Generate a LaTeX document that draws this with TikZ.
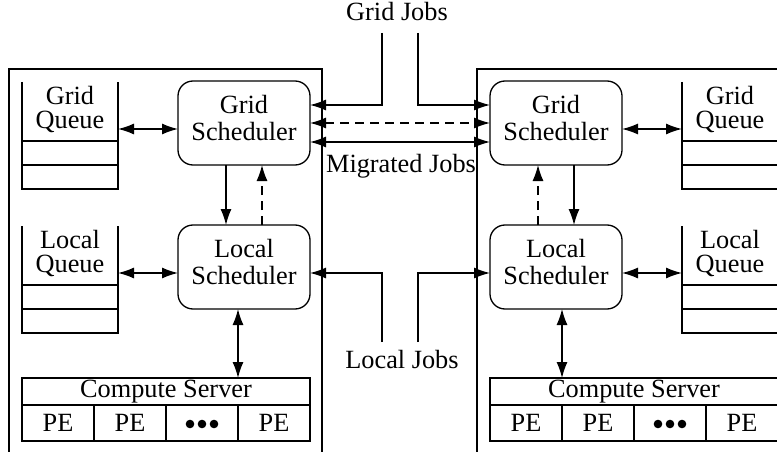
\documentclass[tikz,border=0pt]{standalone}
\usepackage{fontspec}
\setmainfont{Liberation Serif}
\usetikzlibrary{arrows.meta}
\begin{document}
\begin{tikzpicture}[x=1pt,y=-1pt, line width=1.3pt,
  every node/.style={font=\fontsize{26.3}{27}\selectfont, inner sep=0pt, outer sep=0pt},
  schedbox/.style={draw, rounded corners=15pt, minimum width=132pt, minimum height=84pt},
  qbox/.style={minimum width=96pt, minimum height=107pt},
  qtext/.style={align=center, font=\fontsize{26.3}{24}\selectfont},
  stext/.style={align=center},
  cbox/.style={draw, minimum width=288pt, minimum height=27pt},
  pebox/.style={draw, minimum width=72pt, minimum height=36pt},
  domainbox/.style={draw, minimum width=313pt, minimum height=400pt, anchor=north west},
  arr/.style={-{Latex[length=16pt,width=11pt]}},
  darr/.style={{Latex[length=16pt,width=11pt]}-{Latex[length=16pt,width=11pt]}},
  dsh/.style={dash pattern=on 9pt off 6pt},
  lbl/.style={anchor=base}
]
\useasboundingbox (0,0) rectangle (777,452);
\clip (0,0) rectangle (777,452);

% domains
\node (dl) [domainbox] at (9,69) {};
\node (dr) [domainbox] at (477,69) {};

% schedulers
\node (gsl) [schedbox] at (244,123) {};
\node (gsr) [schedbox] at (556,123) {};
\node (lsl) [schedbox] at (244,267) {};
\node (lsr) [schedbox] at (556,267) {};
\node (gslt) [stext] at ([yshift=5pt]gsl.center) {Grid\\Scheduler};
\node (gsrt) [stext] at ([yshift=5pt]gsr.center) {Grid\\Scheduler};
\node (lslt) [stext] at ([yshift=5pt]lsl.center) {Local\\Scheduler};
\node (lsrt) [stext] at ([yshift=5pt]lsr.center) {Local\\Scheduler};

% queues
\node (gql) [qbox] at (70,135.5) {};
\node (gqr) [qbox] at (730,135.5) {};
\node (lql) [qbox] at (70,279.5) {};
\node (lqr) [qbox] at (730,279.5) {};
\foreach \q/\t in {gql/Grid, gqr/Grid, lql/Local, lqr/Local}{
  \draw (\q.north west) -- (\q.south west) -- (\q.south east) -- (\q.north east);
  \draw ([yshift=48pt]\q.south west) -- ([yshift=48pt]\q.south east);
  \draw ([yshift=24pt]\q.south west) -- ([yshift=24pt]\q.south east);
  \node (\q t) [qtext] at ([yshift=-27.5pt]\q.north) {\t\\Queue};
}

% compute servers
\node (csl) [cbox] at (166,391.5) {Compute Server};
\node (csr) [cbox] at (634,391.5) {Compute Server};
\node (pel1) [pebox] at (58,423) {PE};
\node (pel2) [pebox] at (130,423) {PE};
\node (pel3) [pebox] at (202,423) {};
\node (pel4) [pebox] at (274,423) {PE};
\node (per1) [pebox] at (526,423) {PE};
\node (per2) [pebox] at (598,423) {PE};
\node (per3) [pebox] at (670,423) {};
\node (per4) [pebox] at (742,423) {PE};
\foreach \c in {pel3, per3}{
  \fill ([xshift=-12pt,yshift=-1pt]\c.center) circle (4.3pt);
  \fill ([yshift=-1pt]\c.center) circle (4.3pt);
  \fill ([xshift=12pt,yshift=-1pt]\c.center) circle (4.3pt);
}

% queue <-> scheduler
\coordinate (qa) at (0,129);
\coordinate (qb) at (0,273);
\draw[darr] (gql.east |- qa) -- (gsl.west |- qa);
\draw[darr] (gsr.east |- qa) -- (gqr.west |- qa);
\draw[darr] (lql.east |- qb) -- (lsl.west |- qb);
\draw[darr] (lsr.east |- qb) -- (lqr.west |- qb);

% grid <-> local schedulers
\draw[arr] ([xshift=-18pt]gsl.south) -- ([xshift=-18pt]lsl.north);
\draw[arr, dsh] ([xshift=18pt]lsl.north) -- ([xshift=18pt]gsl.south);
\draw[arr] ([xshift=18pt]gsr.south) -- ([xshift=18pt]lsr.north);
\draw[arr, dsh] ([xshift=-18pt]lsr.north) -- ([xshift=-18pt]gsr.south);

% local scheduler <-> compute server
\draw[darr] ([xshift=-6pt]lsl.south) -- ([xshift=-6pt]lsl.south |- csl.north);
\draw[darr] ([xshift=6pt]lsr.south) -- ([xshift=6pt]lsr.south |- csr.north);

% grid jobs
\node (gj) [lbl] at (397,21) {Grid Jobs};
\coordinate (gja) at (382,33);
\coordinate (gjb) at (418,33);
\draw[arr] (gja) |- ([yshift=18pt]gsl.east);
\draw[arr] (gjb) |- ([yshift=18pt]gsr.west);

% migrated jobs
\draw[darr, dsh] (gsl.east) -- (gsr.west);
\draw[darr] ([yshift=-19pt]gsl.east) -- ([yshift=-19pt]gsr.west);
\node (mj) [lbl] at (401,172) {Migrated Jobs};

% local jobs
\coordinate (lja) at (382,342);
\coordinate (ljb) at (418,342);
\draw[arr] (lja) |- ([yshift=-6pt]lsl.east);
\draw[arr] (ljb) |- ([yshift=-6pt]lsr.west);
\node (lj) [lbl] at (402,368) {Local Jobs};
\end{tikzpicture}
\end{document}
